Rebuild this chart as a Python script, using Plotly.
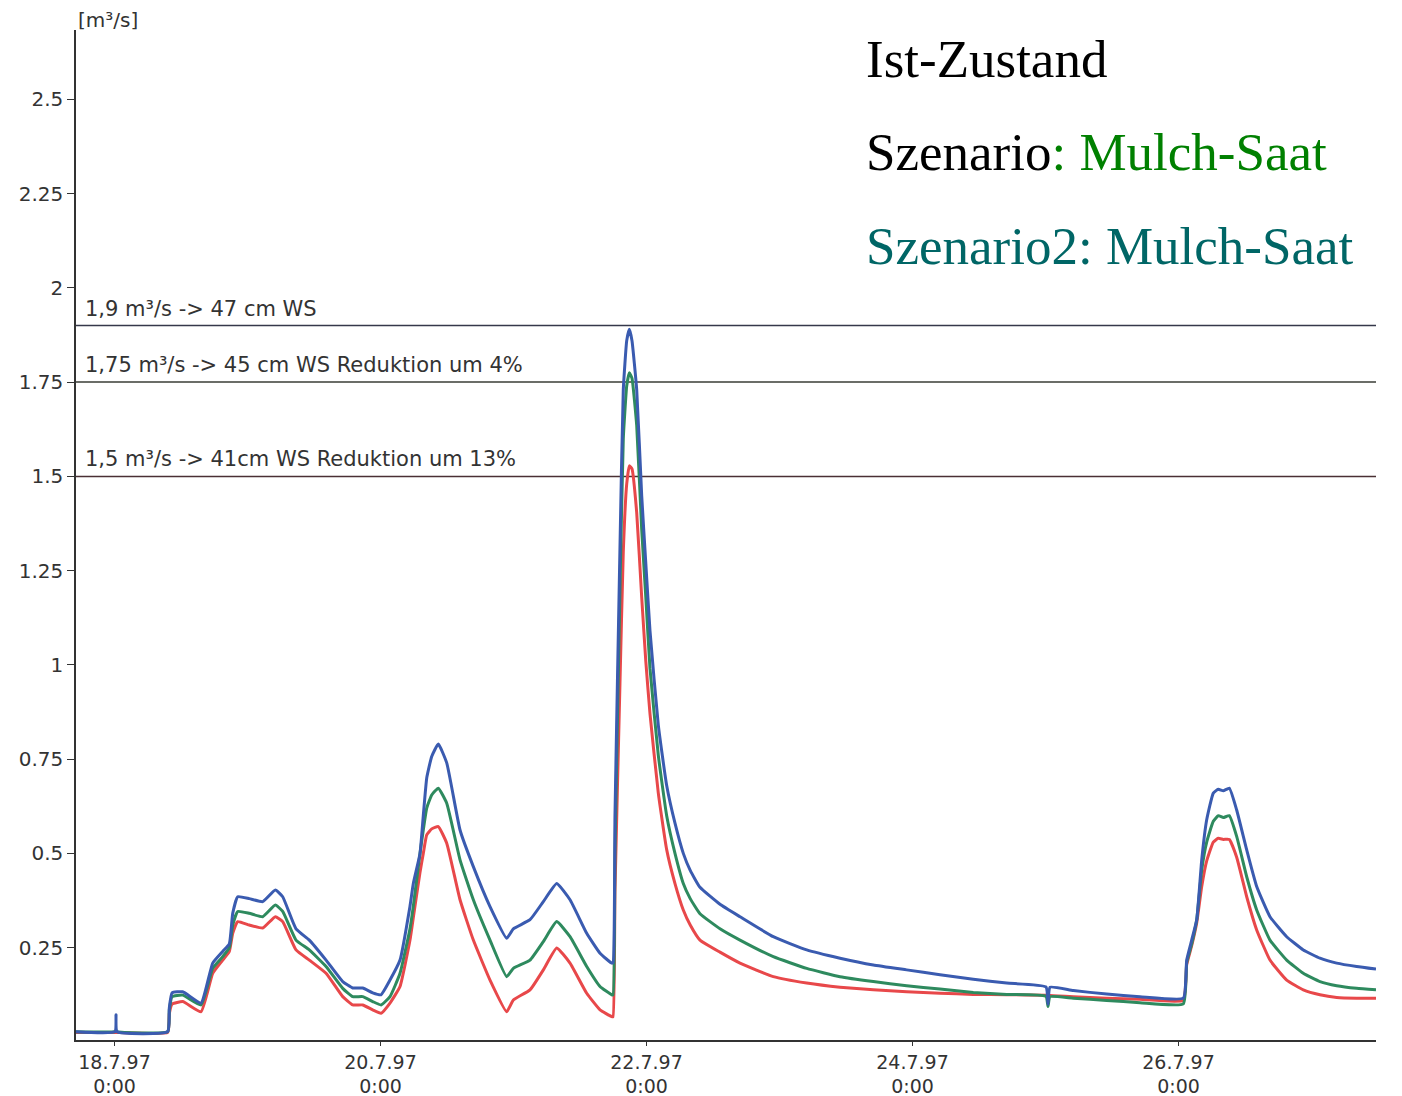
import pandas as pd
import plotly.graph_objects as go

# time in hours after 18.7.97 0:00
hours = [-6.95, 0.09, 0.27, 0.45, 9.60, 9.89, 10.38, 12.31, 15.61, 17.72, 19.52, 20.72,
         21.33, 22.23, 24.32, 26.74, 29.02, 30.35, 32.75, 35.15, 38.17, 41.18, 42.98,
         44.79, 46.59, 48.09, 49.71, 51.52, 53.32, 53.92, 55.13, 55.72, 56.34, 57.24,
         58.43, 59.95, 62.35, 64.75, 67.76, 70.77, 71.97, 74.98, 77.38, 79.80, 82.20,
         85.21, 87.61, 89.72, 89.96, 90.31, 91.21, 91.81, 92.43, 92.90, 93.38, 94.23,
         95.13, 95.87, 96.63, 98.13, 99.64, 101.14, 102.64, 103.89, 105.65, 109.26,
         112.87, 118.88, 124.91, 130.92,
         136.93, 142.95, 148.96, 154.97, 161.0, 168.09, 168.45, 168.81, 173.02, 179.04,
         185.05, 192.87, 193.48, 194.38, 195.29, 196.19, 197.09, 198.28, 199.18, 200.09,
         201.17, 202.50, 204.31, 206.11, 208.51, 211.52, 214.52, 217.53, 220.55, 224.15,
         227.64]

ist_zustand = [0.027, 0.027, 0.072, 0.027, 0.027, 0.09, 0.13, 0.133, 0.103, 0.209, 0.24, 0.26,
               0.341, 0.385, 0.38, 0.372, 0.403, 0.385, 0.30, 0.27, 0.217, 0.16, 0.143,
               0.143, 0.13, 0.125, 0.164, 0.217, 0.36, 0.42, 0.50, 0.60, 0.70, 0.757,
               0.79, 0.74, 0.562, 0.465, 0.359, 0.275, 0.30, 0.324, 0.372, 0.42, 0.377,
               0.288, 0.235, 0.209, 0.21, 0.60, 1.31, 1.73, 1.86, 1.89, 1.86, 1.73,
               1.45, 1.27, 1.09, 0.84, 0.68, 0.58, 0.50, 0.455, 0.41, 0.365,
               0.332, 0.279, 0.244, 0.222,
               0.204, 0.191, 0.178, 0.166, 0.156, 0.146, 0.10, 0.145, 0.136, 0.127,
               0.12, 0.116, 0.217, 0.27, 0.324, 0.483, 0.589, 0.66, 0.67, 0.666,
               0.673, 0.615, 0.509, 0.412, 0.332, 0.279, 0.244, 0.222, 0.209, 0.20,
               0.193]

szenario2 = [0.027, 0.027, 0.03, 0.027, 0.027, 0.085, 0.12, 0.124, 0.098, 0.195, 0.226, 0.25,
             0.31, 0.346, 0.341, 0.332, 0.363, 0.346, 0.27, 0.244, 0.20, 0.142, 0.12,
             0.12, 0.107, 0.098, 0.12, 0.182, 0.30, 0.36, 0.50, 0.562, 0.62, 0.655,
             0.673, 0.633, 0.483, 0.377, 0.27, 0.173, 0.195, 0.217, 0.266, 0.319, 0.279,
             0.20, 0.147, 0.125, 0.125, 0.50, 1.20, 1.60, 1.74, 1.775, 1.76, 1.635,
             1.36, 1.18, 0.99, 0.76, 0.60, 0.50, 0.42, 0.38, 0.34, 0.30,
             0.27, 0.226, 0.195, 0.173,
             0.16, 0.149, 0.14, 0.131, 0.126, 0.121, 0.094, 0.12, 0.116, 0.11,
             0.104, 0.101, 0.21, 0.26, 0.324, 0.456, 0.53, 0.585, 0.60, 0.595,
             0.60, 0.545, 0.438, 0.35, 0.27, 0.217, 0.182, 0.16, 0.149, 0.142,
             0.138]

szenario = [0.025, 0.025, 0.025, 0.025, 0.025, 0.075, 0.10, 0.107, 0.08, 0.182, 0.217, 0.24,
            0.288, 0.319, 0.31, 0.302, 0.332, 0.319, 0.244, 0.217, 0.182, 0.12, 0.098,
            0.098, 0.085, 0.076, 0.103, 0.147, 0.27, 0.33, 0.45, 0.50, 0.549, 0.565,
            0.571, 0.527, 0.377, 0.27, 0.164, 0.08, 0.111, 0.138, 0.191, 0.249, 0.209,
            0.129, 0.085, 0.067, 0.067, 0.40, 0.95, 1.30, 1.48, 1.528, 1.52, 1.404,
            1.18, 1.01, 0.87, 0.66, 0.51, 0.42, 0.35, 0.31, 0.27, 0.238,
            0.209, 0.173, 0.156, 0.145,
            0.138, 0.133, 0.129, 0.126, 0.125, 0.124, 0.124, 0.123, 0.12, 0.116,
            0.113, 0.11, 0.205, 0.255, 0.316, 0.412, 0.48, 0.53, 0.54, 0.537,
            0.537, 0.49, 0.385, 0.297, 0.217, 0.164, 0.138, 0.125, 0.118, 0.116,
            0.116]

tick_dates = ["1997-07-18", "1997-07-20", "1997-07-22", "1997-07-24", "1997-07-26"]
tick_labels = ["18.7.97<br>0:00", "20.7.97<br>0:00", "22.7.97<br>0:00",
               "24.7.97<br>0:00", "26.7.97<br>0:00"]
y_ticks = [0.25, 0.5, 0.75, 1, 1.25, 1.5, 1.75, 2, 2.25, 2.5]
y_labels = ["0.25", "0.5", "0.75", "1", "1.25", "1.5", "1.75", "2", "2.25", "2.5"]

ref_levels = [1.9, 1.75, 1.5]
ref_texts = ["1,9 m³/s -> 47 cm WS",
             "1,75 m³/s -> 45 cm WS Reduktion um 4%",
             "1,5 m³/s -> 41cm WS Reduktion um 13%"]
ref_colors = ["#35384a", "#3a3d36", "#4a3034"]

base = pd.Timestamp("1997-07-18 00:00")
t = [base + pd.Timedelta(hours=h) for h in hours]

fig = go.Figure()
fig.add_trace(go.Scatter(x=t, y=szenario, mode="lines",
                         line=dict(color="#e8484a", width=3, shape="spline", smoothing=0.4),
                         showlegend=False))
fig.add_trace(go.Scatter(x=t, y=szenario2, mode="lines",
                         line=dict(color="#2e8a5e", width=3, shape="spline", smoothing=0.4),
                         showlegend=False))
fig.add_trace(go.Scatter(x=t, y=ist_zustand, mode="lines",
                         line=dict(color="#3a5bb0", width=3, shape="spline", smoothing=0.4),
                         showlegend=False))

for lv, txt, col in zip(ref_levels, ref_texts, ref_colors):
    fig.add_shape(type="line", xref="paper", x0=0, x1=1, yref="y", y0=lv, y1=lv,
                  line=dict(color=col, width=1.5), layer="below")
    fig.add_annotation(xref="paper", x=0.005, yref="y", y=lv, text=txt,
                       showarrow=False, xanchor="left", yanchor="bottom", yshift=3,
                       font=dict(family="DejaVu Sans", size=21, color="#333333"))

fig.add_annotation(xref="paper", x=0.0, yref="paper", y=1.0, text="[m³/s]",
                   showarrow=False, xanchor="left", yanchor="bottom", yshift=-4,
                   font=dict(family="DejaVu Sans", size=20, color="#333333"))

legend_lines = ["Ist-Zustand",
                "Szenario<span style='color:#008000'>: Mulch-Saat</span>",
                "<span style='color:#006666'>Szenario2: Mulch-Saat</span>"]
legend_y = [0.971, 0.879, 0.786]
for txt, yy in zip(legend_lines, legend_y):
    fig.add_annotation(xref="paper", x=0.606, yref="paper", y=yy, text=txt,
                       showarrow=False, xanchor="left", yanchor="middle",
                       font=dict(family="Liberation Serif", size=53, color="#000000"))

fig.update_layout(
    width=1402, height=1096,
    margin=dict(l=68, r=34, t=22, b=64),
    paper_bgcolor="white", plot_bgcolor="white",
    xaxis=dict(range=[base + pd.Timedelta(hours=-6.95), base + pd.Timedelta(hours=227.64)],
               tickmode="array", tickvals=tick_dates, ticktext=tick_labels,
               showgrid=False, zeroline=False, showline=True, linecolor="#333333",
               linewidth=1.5, ticks="outside", ticklen=4, tickcolor="#333333",
               automargin=False,
               tickfont=dict(family="DejaVu Sans", size=19, color="#333333")),
    yaxis=dict(range=[0.005, 2.684], tickmode="array", tickvals=y_ticks, ticktext=y_labels,
               showgrid=False, zeroline=False, showline=True, linecolor="#333333",
               linewidth=1.5, ticks="outside", ticklen=7, tickcolor="#333333",
               automargin=False,
               tickfont=dict(family="DejaVu Sans", size=20, color="#333333")),
)

fig.write_html("out.html")
